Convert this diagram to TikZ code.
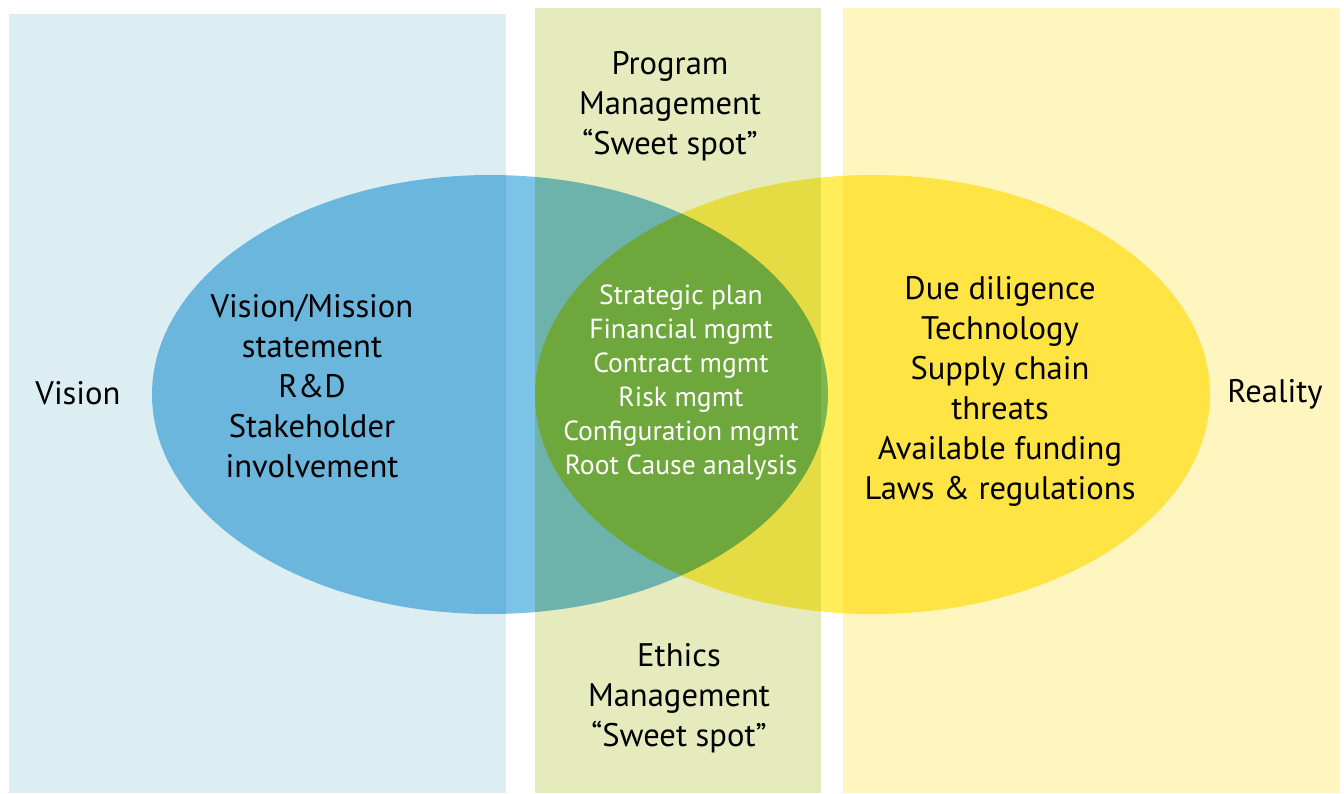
\documentclass[tikz,border=0pt]{standalone}
\usepackage{fontspec}
\setmainfont{PT Sans}
\usetikzlibrary{positioning}
\definecolor{visionbg}{RGB}{221,238,243}
\definecolor{sweetbg}{RGB}{229,235,189}
\definecolor{realitybg}{RGB}{255,245,190}
\definecolor{visionblue}{RGB}{123,195,231}
\definecolor{realityyellow}{RGB}{255,238,90}
\tikzset{
  bigtext/.style={align=center, font=\fontsize{16.3}{20}\selectfont, text=black},
  smalltext/.style={align=center, font=\fontsize{13.8}{17}\selectfont, text=white},
}
\begin{document}
\begin{tikzpicture}[x=0.5pt, y=-0.5pt]
    \useasboundingbox (0,0) rectangle (1344,793);
    % background columns
    \fill [visionbg]  (9, 14) rectangle (506, 793);
    \fill [sweetbg]   (535, 8) rectangle (821, 793);
    \fill [realitybg] (843, 8) rectangle (1340, 793);

    % the two ovals, multiplied over the columns
    \begin{scope}[blend mode=multiply]
      \fill [visionblue]    (490, 394.5) ellipse (338 and 219.5);
      \fill [realityyellow] (872.5, 394.5) ellipse (337.5 and 219.5);
    \end{scope}

    \node (vision)  at (78, 393)   [bigtext] {Vision};
    \node (reality) at (1275, 394) [bigtext] {Reality};

    \node (program) at (670, 106) [bigtext] {Program\\Management\\``Sweet spot''};
    \node (ethics)  at (679, 698) [bigtext] {Ethics\\Management\\``Sweet spot''};

    \node (mission) at (312, 386) [bigtext] {Vision/Mission\\statement\\R\&D\\Stakeholder\\involvement};
    \node (facts)   at (1000, 391) [bigtext] {Due diligence\\Technology\\Supply chain\\threats\\Available funding\\Laws \& regulations};

    \node (plan) at (681, 382) [smalltext] {Strategic plan\\Financial mgmt\\Contract mgmt\\Risk mgmt\\Configuration mgmt\\Root Cause analysis};
\end{tikzpicture}
\end{document}
